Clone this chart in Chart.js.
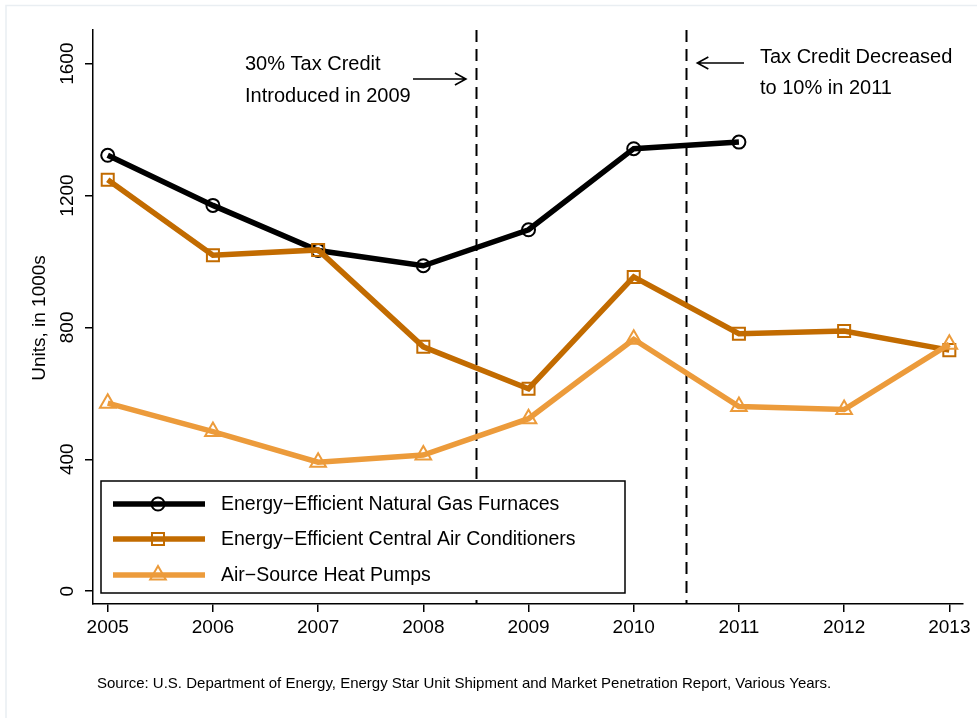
<!DOCTYPE html>
<html>
<head>
<meta charset="utf-8">
<script src="https://cdn.jsdelivr.net/npm/chart.js@4/dist/chart.umd.min.js"></script>
<style>
  html, body { margin: 0; padding: 0; background: #ffffff; }
  #wrap { width: 977px; height: 718px; }
</style>
</head>
<body>
<div id="wrap"><canvas id="c" width="977" height="718"></canvas></div>
<script>
// ---- data ----
const years = [2005, 2006, 2007, 2008, 2009, 2010, 2011, 2012, 2013];
const furnaces = [1322, 1170, 1033, 987, 1096, 1342, 1362];
const airConditioners = [1248, 1019, 1035, 741, 614, 953, 781, 789, 731];
const heatPumps = [570, 484, 391, 413, 523, 764, 560, 551, 749];
const seriesNames = [
  "Energy\u2212Efficient Natural Gas Furnaces",
  "Energy\u2212Efficient Central Air Conditioners",
  "Air\u2212Source Heat Pumps"
];
const yTicks = [0, 400, 800, 1200, 1600];
const policyYears = [2008.5, 2010.5];
const noteLeft = ["30% Tax Credit", "Introduced in 2009"];
const noteRight = ["Tax Credit Decreased", "to 10% in 2011"];
const yTitle = "Units, in 1000s";
const sourceNote = "Source: U.S. Department of Energy, Energy Star Unit Shipment and Market Penetration Report, Various Years.";

const FONT = "'Liberation Sans', Arial, Helvetica, sans-serif";
const colors = ["#000000", "#c26b00", "#ec9b3b"];

function pts(vals) { return vals.map((v, i) => ({ x: years[i], y: v })); }

const markers = ["circle", "rect", "triangle"];
const radii = [6.5, 8.5, 9];

const datasets = [furnaces, airConditioners, heatPumps].map((vals, i) => ({
  label: seriesNames[i],
  data: pts(vals),
  borderColor: colors[i],
  backgroundColor: "rgba(0,0,0,0)",
  borderWidth: 5.5,
  pointStyle: markers[i],
  pointRadius: radii[i],
  pointBorderWidth: 2,
  pointBackgroundColor: "rgba(0,0,0,0)",
  pointBorderColor: colors[i],
  tension: 0,
  order: 3 - i
}));

const overlay = {
  id: "overlay",
  beforeDraw(chart) {
    const ctx = chart.ctx;
    ctx.save();
    ctx.fillStyle = "#ffffff";
    ctx.fillRect(0, 0, chart.width, chart.height);
    ctx.strokeStyle = "#e9eef2";
    ctx.lineWidth = 1.5;
    ctx.beginPath();
    ctx.moveTo(6, 718); ctx.lineTo(6, 5.5); ctx.lineTo(977, 5.5);
    ctx.stroke();
    ctx.restore();
  },
  beforeDatasetsDraw(chart) {
    const ctx = chart.ctx, xs = chart.scales.x;
    const a = chart.chartArea;
    ctx.save();
    ctx.strokeStyle = "#000";
    ctx.lineWidth = 2;
    ctx.setLineDash([12, 7]);
    policyYears.forEach(p => {
      const px = Math.round(xs.getPixelForValue(p)) + 0.5;
      ctx.beginPath();
      ctx.moveTo(px, a.top);
      ctx.lineTo(px, a.bottom);
      ctx.stroke();
    });
    ctx.restore();
  },
  afterDatasetsDraw(chart) {
    const ctx = chart.ctx, xs = chart.scales.x, ys = chart.scales.y;
    ctx.save();
    // y tick labels (rotated)
    ctx.fillStyle = "#000";
    ctx.font = "19px " + FONT;
    ctx.textAlign = "center";
    ctx.textBaseline = "middle";
    yTicks.forEach(t => {
      ctx.save();
      ctx.translate(68, ys.getPixelForValue(t));
      ctx.rotate(-Math.PI / 2);
      ctx.fillText(String(t), 0, 0);
      ctx.restore();
    });
    // y title
    ctx.save();
    ctx.translate(40, 318);
    ctx.rotate(-Math.PI / 2);
    ctx.fillText(yTitle, 0, 0);
    ctx.restore();

    // annotations
    const p1 = xs.getPixelForValue(policyYears[0]);
    const p2 = xs.getPixelForValue(policyYears[1]);
    ctx.font = "20px " + FONT;
    ctx.textAlign = "left";
    ctx.fillText(noteLeft[0], 245, 64);
    ctx.fillText(noteLeft[1], 245, 96);
    ctx.fillText(noteRight[0], 760, 57);
    ctx.fillText(noteRight[1], 760, 88);
    ctx.strokeStyle = "#000";
    ctx.lineWidth = 1.6;
    // arrow right
    let ay = 79, tip = p1 - 10;
    ctx.beginPath();
    ctx.moveTo(413, ay); ctx.lineTo(tip, ay);
    ctx.moveTo(tip - 11, ay - 6); ctx.lineTo(tip, ay); ctx.lineTo(tip - 11, ay + 6);
    ctx.stroke();
    // arrow left
    ay = 63; tip = p2 + 11;
    ctx.beginPath();
    ctx.moveTo(744, ay); ctx.lineTo(tip, ay);
    ctx.moveTo(tip + 11, ay - 6); ctx.lineTo(tip, ay); ctx.lineTo(tip + 11, ay + 6);
    ctx.stroke();

    // legend
    ctx.fillStyle = "#fff";
    ctx.fillRect(101, 481, 524, 112);
    ctx.strokeStyle = "#000";
    ctx.lineWidth = 1.5;
    ctx.strokeRect(101, 481, 524, 112);
    const rows = [504, 539, 575];
    chart.data.datasets.forEach((ds, i) => {
      const y = rows[i];
      ctx.strokeStyle = ds.borderColor;
      ctx.lineWidth = 5.5;
      ctx.beginPath();
      ctx.moveTo(113, y); ctx.lineTo(205, y);
      ctx.stroke();
      ctx.lineWidth = 2;
      ctx.strokeStyle = ds.pointBorderColor;
      ctx.fillStyle = "rgba(0,0,0,0)";
      Chart.helpers.drawPoint(ctx, { pointStyle: ds.pointStyle, radius: ds.pointRadius, borderWidth: 2, rotation: 0 }, 158, y);
      ctx.fillStyle = "#000";
      ctx.font = "19.5px " + FONT;
      ctx.textAlign = "left";
      ctx.textBaseline = "middle";
      ctx.fillText(ds.label, 221, y + 1);
    });

    // source note
    ctx.font = "15px " + FONT;
    ctx.textAlign = "left";
    ctx.fillText(sourceNote, 97, 684);
    ctx.restore();
  }
};

new Chart(document.getElementById("c"), {
  type: "line",
  data: { datasets },
  options: {
    responsive: false,
    animation: false,
    devicePixelRatio: 1,
    layout: { padding: { left: 0, top: 30, right: 14, bottom: 74 } },
    plugins: { legend: { display: false }, tooltip: { enabled: false }, title: { display: false } },
    scales: {
      x: {
        type: "linear",
        min: 2004.86,
        max: 2013.13,
        afterBuildTicks: s => { s.ticks = years.map(v => ({ value: v })); },
        afterFit: s => { s.height = 40; },
        grid: { display: true, drawOnChartArea: false, drawTicks: true, tickLength: 8, color: "#000", lineWidth: 1.5 },
        border: { display: true, color: "#000", width: 1.5 },
        ticks: { color: "#000", font: { family: FONT, size: 19 }, padding: 4, maxRotation: 0, autoSkip: false, callback: v => String(v) }
      },
      y: {
        type: "linear",
        min: -39,
        max: 1702,
        afterBuildTicks: s => { s.ticks = yTicks.map(v => ({ value: v })); },
        afterFit: s => { s.width = 93; },
        grid: { display: true, drawOnChartArea: false, drawTicks: true, tickLength: 8, color: "#000", lineWidth: 1.5 },
        border: { display: true, color: "#000", width: 1.5 },
        ticks: { display: false }
      }
    }
  },
  plugins: [overlay]
});
</script>
</body>
</html>
